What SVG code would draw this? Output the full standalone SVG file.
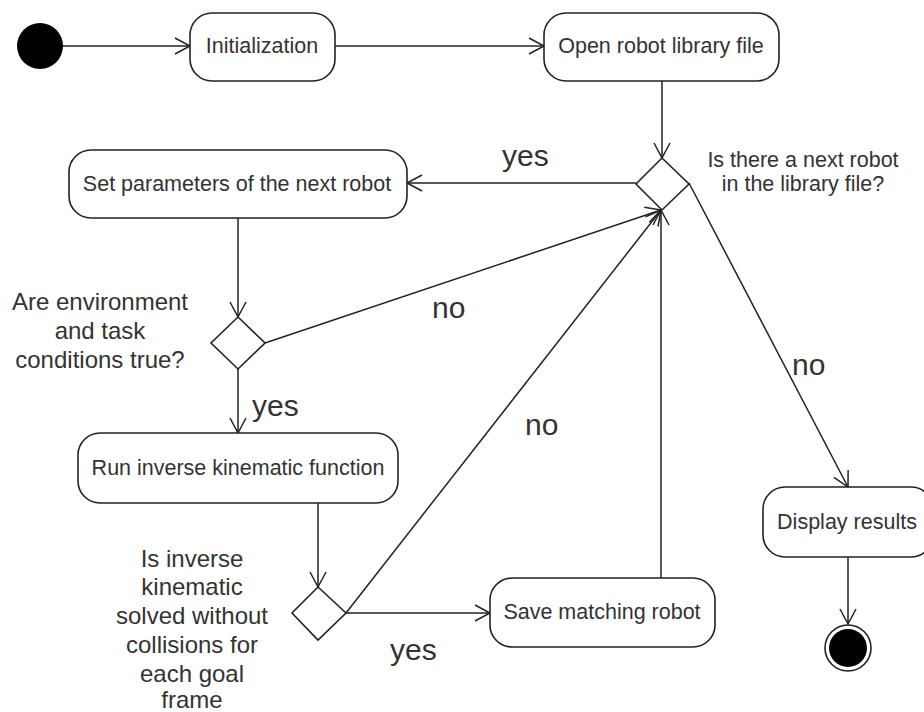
<svg xmlns="http://www.w3.org/2000/svg" width="924" height="712" viewBox="0 0 924 712">
<defs>
<marker id="arr" viewBox="0 0 20 20" refX="16" refY="10" markerWidth="20" markerHeight="20" markerUnits="userSpaceOnUse" orient="auto">
<path d="M1,2 L16,10 L1,18" fill="none" stroke="#222" stroke-width="1.5"/>
</marker>
<style>
.n{fill:#fff;stroke:#222;stroke-width:1.6}
.c{fill:none;stroke:#222;stroke-width:1.5;marker-end:url(#arr)}
.t{font-family:"Liberation Sans",Arial,sans-serif;font-size:21.5px;fill:#333;text-anchor:middle}
.q{font-family:"Liberation Sans",Arial,sans-serif;font-size:24px;fill:#333;text-anchor:middle}
.l{font-family:"Liberation Sans",Arial,sans-serif;font-size:30px;fill:#333}
</style>
</defs>
<rect width="924" height="712" fill="#fff"/>
<g id="connectors">
<line class="c" x1="63" y1="46" x2="190" y2="46"/>
<line class="c" x1="335" y1="46" x2="544" y2="46"/>
<line class="c" x1="662" y1="81" x2="662" y2="158"/>
<line class="c" x1="636" y1="183" x2="407" y2="183"/>
<line class="c" x1="238" y1="218" x2="238" y2="317"/>
<line class="c" x1="265" y1="343" x2="661" y2="210"/>
<line class="c" x1="238" y1="369" x2="238" y2="433"/>
<line class="c" x1="318" y1="503" x2="318" y2="587"/>
<line class="c" x1="346" y1="613" x2="490" y2="613"/>
<line class="c" x1="346" y1="613" x2="661" y2="210"/>
<line class="c" x1="661" y1="578" x2="661" y2="210"/>
<line class="c" x1="689" y1="183" x2="848" y2="487"/>
<line class="c" x1="848" y1="557" x2="848" y2="624"/>
<text class="l" x="502" y="166">yes</text>
<text class="l" x="432" y="318">no</text>
<text class="l" x="252" y="416">yes</text>
<text class="l" x="525" y="435">no</text>
<text class="l" x="792" y="375">no</text>
<text class="l" x="390" y="660">yes</text>
</g>
<g id="start"><circle cx="40" cy="46" r="23" fill="#000"/></g>
<g id="init"><rect class="n" x="190" y="13" width="145" height="68" rx="22"/><text class="t" x="262" y="53">Initialization</text></g>
<g id="open"><rect class="n" x="544" y="13" width="235" height="68" rx="22"/><text class="t" x="661" y="53">Open robot library file</text></g>
<g id="d1"><polygon class="n" points="662,158 689,184 662,210 636,184"/>
<text class="t" x="803" y="167">Is there a next robot</text><text class="t" x="803" y="191">in the library file?</text></g>
<g id="setp"><rect class="n" x="69" y="150" width="338" height="68" rx="22"/><text class="t" x="237" y="191">Set parameters of the next robot</text></g>
<g id="d2"><polygon class="n" points="238,317 265,343 238,369 211,343"/>
<text class="q" x="100" y="310">Are environment</text><text class="q" x="100" y="339">and task</text><text class="q" x="100" y="368">conditions true?</text></g>
<g id="runik"><rect class="n" x="78" y="433" width="320" height="70" rx="22"/><text class="t" x="238" y="475">Run inverse kinematic function</text></g>
<g id="d3"><polygon class="n" points="318,587 346,613 318,640 292,613"/>
<text class="q" x="192" y="567">Is inverse</text><text class="q" x="192" y="595">kinematic</text><text class="q" x="192" y="624">solved without</text><text class="q" x="192" y="653">collisions for</text><text class="q" x="192" y="682">each goal</text><text class="q" x="192" y="708">frame</text></g>
<g id="save"><rect class="n" x="490" y="578" width="225" height="69" rx="22"/><text class="t" x="602" y="619">Save matching robot</text></g>
<g id="display"><rect class="n" x="763" y="487" width="170" height="70" rx="22"/><text class="t" x="847" y="529">Display results</text></g>
<g id="end"><circle cx="848" cy="648" r="23" fill="#fff" stroke="#222" stroke-width="1.6"/><circle cx="848" cy="648" r="19" fill="#000"/></g>
</svg>
